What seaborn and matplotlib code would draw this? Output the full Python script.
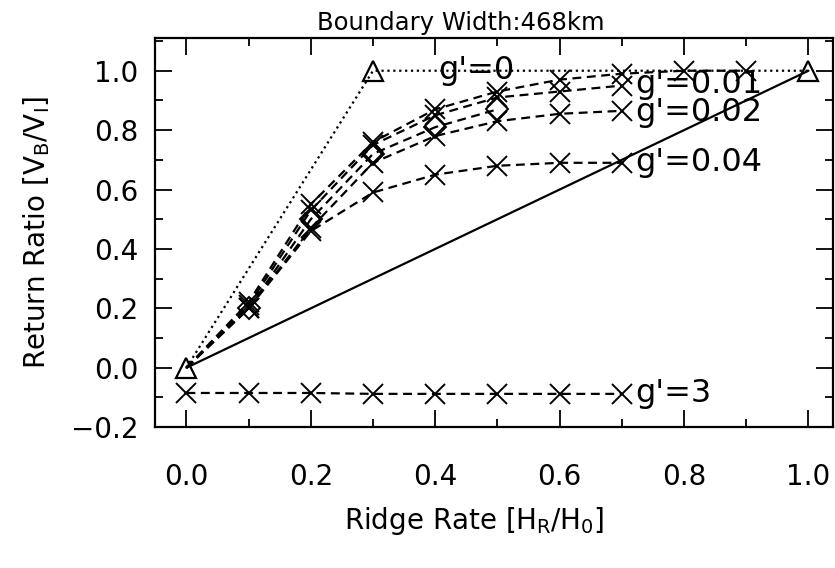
import numpy as np
import pandas as pd
import matplotlib
matplotlib.use('Agg')
import matplotlib.pyplot as plt
import seaborn as sns

# ridge rate positions
x_full = [0.0, 0.1, 0.2, 0.3, 0.4, 0.5, 0.6, 0.7, 0.8, 0.9]
x_07 = [0.0, 0.1, 0.2, 0.3, 0.4, 0.5, 0.6, 0.7]
x_05 = [0.0, 0.1, 0.2, 0.3, 0.4, 0.5]

# g'=0 (dotted, triangles) and reference line
x_g0 = [0.0, 0.3, 1.0]
y_g0 = [0.0, 1.0, 1.0]
x_ref = [0.0, 1.0]
y_ref = [0.0, 1.0]

# dashed series
y_top = [0.0, 0.22, 0.55, 0.76, 0.87, 0.93, 0.97, 0.99, 1.0, 1.0]
y_001 = [0.0, 0.21, 0.53, 0.75, 0.85, 0.91, 0.93, 0.95]
y_dia = [0.0, 0.20, 0.50, 0.72, 0.81, 0.87]
y_002 = [0.0, 0.20, 0.47, 0.69, 0.78, 0.83, 0.855, 0.865]
y_004 = [0.0, 0.20, 0.46, 0.59, 0.65, 0.68, 0.69, 0.69]
y_3 = [-0.085, -0.085, -0.085, -0.088, -0.088, -0.088, -0.088, -0.088]

labels = ["g'=0", "g'=0.01", "g'=0.02", "g'=0.04", "g'=3"]
label_x = [0.405, 0.722, 0.722, 0.722, 0.722]
label_y = [1.0, 0.955, 0.86, 0.69, -0.088]

sns.set_style("ticks")
plt.rcParams['font.family'] = ['DejaVu Sans']
plt.rcParams['mathtext.default'] = 'regular'
plt.rcParams['text.color'] = 'black'
plt.rcParams['axes.labelcolor'] = 'black'
plt.rcParams['xtick.color'] = 'black'
plt.rcParams['ytick.color'] = 'black'

fig = plt.figure(figsize=(8.35, 5.68), dpi=100)
ax = fig.add_axes([0.186, 0.248, 0.812, 0.685])

k = dict(color='black', lw=1.6, legend=False, ax=ax)
xm = dict(marker='x', markersize=15, markeredgewidth=1.4, mfc='none', mec='black')
dash = (0, (4, 2.5))

sns.lineplot(x=x_ref, y=y_ref, linestyle='-', **k)
sns.lineplot(x=x_g0, y=y_g0, linestyle=':', marker='^', markersize=14,
             markeredgewidth=1.6, mfc='none', mec='black', **k)
for xs, ys in [(x_full, y_top), (x_07, y_001), (x_07, y_002), (x_07, y_004)]:
    sns.lineplot(x=xs, y=ys, linestyle=dash, markevery=list(range(1, len(xs))), **xm, **k)
sns.lineplot(x=x_05, y=y_dia, linestyle=dash, marker='D', markersize=11,
             markeredgewidth=1.4, mfc='none', mec='black', markevery=list(range(1, len(x_05))), **k)
sns.lineplot(x=x_07, y=y_3, linestyle=dash, **xm, **k)

for t, tx, ty in zip(labels, label_x, label_y):
    ax.text(tx, ty, t, fontsize=23, va='center', ha='left')

ax.set_xlim(-0.05, 1.04)
ax.set_ylim(-0.2, 1.11)
ax.set_xticks([0.0, 0.2, 0.4, 0.6, 0.8, 1.0])
ax.set_xticks(np.arange(0.1, 1.0, 0.2), minor=True)
ax.set_yticks([-0.2, 0.0, 0.2, 0.4, 0.6, 0.8, 1.0])
ax.set_yticks(np.arange(-0.1, 1.1, 0.2), minor=True)
ax.set_xticklabels(['0.0', '0.2', '0.4', '0.6', '0.8', '1.0'])
ax.set_yticklabels(['\u22120.2', '0.0', '0.2', '0.4', '0.6', '0.8', '1.0'])
ax.tick_params(which='both', direction='in', top=True, right=True, labelsize=20, width=1.3)
ax.tick_params(axis='x', pad=26)
ax.tick_params(axis='y', pad=12)
ax.tick_params(which='major', length=12)
ax.tick_params(which='minor', length=6)
for s in ax.spines.values():
    s.set_linewidth(1.6)
    s.set_color('black')

ax.set_xlabel('Ridge Rate [H$_\\mathrm{R}$/H$_\\mathrm{0}$]', fontsize=20, labelpad=14)
ax.xaxis.set_label_coords(0.47, -0.2)
ax.set_ylabel('Return Ratio [V$_\\mathrm{B}$/V$_\\mathrm{I}$]', fontsize=20, labelpad=14)
ax.set_title('Boundary Width:468km', fontsize=17.5, pad=6, x=0.45)

fig.savefig('out.png', dpi=100)
